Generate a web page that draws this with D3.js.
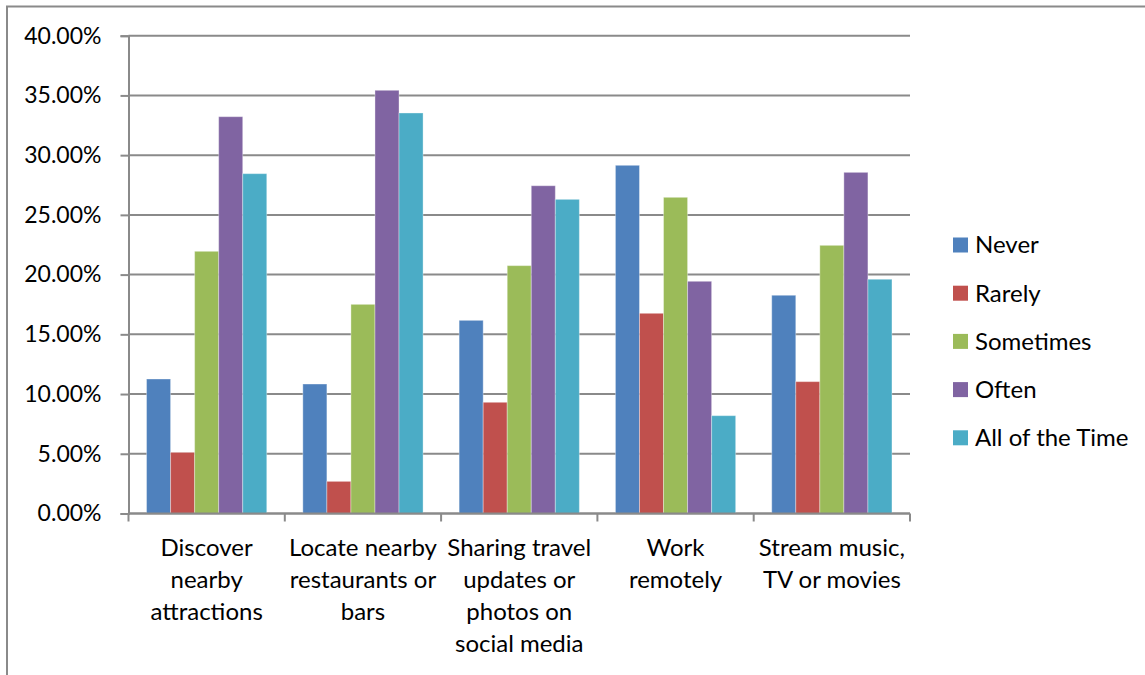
<!DOCTYPE html>
<html>
<head>
<meta charset="utf-8">
<script src="https://cdn.jsdelivr.net/npm/d3@7"></script>
<style>
  html, body { margin: 0; padding: 0; background: #fff; }
  svg { display: block; }
  text { font-family: Lato, "Open Sans", sans-serif; fill: #000; }
</style>
</head>
<body>
<svg id="chart" width="1145" height="675"></svg>
<script>
// Survey: how often travellers use their device for each activity
const categories = [
  ["Discover", "nearby", "attractions"],
  ["Locate nearby", "restaurants or", "bars"],
  ["Sharing travel", "updates or", "photos on", "social media"],
  ["Work", "remotely"],
  ["Stream music,", "TV or movies"]
];
const seriesNames = ["Never", "Rarely", "Sometimes", "Often", "All of the Time"];
const never       = [11.26, 10.84, 16.17, 29.15, 18.27];
const rarely      = [5.12, 2.69, 9.31, 16.76, 11.04];
const sometimes   = [21.95, 17.51, 20.75, 26.47, 22.45];
const often       = [33.22, 35.43, 27.44, 19.44, 28.56];
const allTheTime  = [28.45, 33.53, 26.30, 8.19, 19.61];
const yTicks = [0, 5, 10, 15, 20, 25, 30, 35, 40];
const colors = ["#4F81BD", "#C0504D", "#9BBB59", "#8064A2", "#4BACC6"];

const seriesValues = [never, rarely, sometimes, often, allTheTime];
const catKeys = categories.map((c, i) => i);

const svg = d3.select("#chart");
const grey = "#8a8a8a";

// outer chart frame
svg.append("rect")
  .attr("x", 7).attr("y", 6.5)
  .attr("width", 1160).attr("height", 690)
  .attr("fill", "none").attr("stroke", grey).attr("stroke-width", 2);

const plot = { left: 128.5, right: 910, top: 35.7, bottom: 513.5 };

const x0 = d3.scaleBand().domain(catKeys).range([plot.left, plot.right]);
// five bars per group with a 150% gap (0.75 bar width on each side)
const barW = x0.bandwidth() / 6.5;
const x1 = d3.scaleBand().domain(seriesNames).range([0.75 * barW, 5.75 * barW]);

const y = d3.scaleLinear().domain([0, 40]).range([plot.bottom, plot.top]);

// horizontal gridlines
svg.append("g")
  .selectAll("line").data(yTicks).join("line")
  .attr("x1", plot.left).attr("x2", plot.right)
  .attr("y1", d => y(d)).attr("y2", d => y(d))
  .attr("stroke", grey).attr("stroke-width", 2);

// y axis
const yAxis = d3.axisLeft(y).tickValues(yTicks)
  .tickFormat(d => d.toFixed(2) + "%").tickSize(8).tickPadding(19);
const gy = svg.append("g").attr("transform", `translate(${plot.left},0)`).call(yAxis);
gy.select(".domain").attr("stroke", grey).attr("stroke-width", 2);
gy.selectAll(".tick line").attr("stroke", grey).attr("stroke-width", 2);
gy.selectAll(".tick text")
  .style("font-family", "Lato, 'Open Sans', sans-serif")
  .style("font-size", "23px").attr("fill", "#000");

// bars
const groups = svg.append("g").selectAll("g").data(catKeys).join("g")
  .attr("transform", d => `translate(${x0(d)},0)`);
groups.selectAll("rect")
  .data(ci => seriesNames.map((s, si) => ({ s, si, v: seriesValues[si][ci] })))
  .join("rect")
  .attr("x", d => x1(d.s))
  .attr("width", x1.bandwidth())
  .attr("y", d => y(d.v))
  .attr("height", d => y(0) - y(d.v))
  .attr("fill", d => colors[d.si])
  .attr("stroke", "#ffffff").attr("stroke-opacity", 0.35).attr("stroke-width", 1);

// x axis with ticks between categories
svg.append("line")
  .attr("x1", plot.left).attr("x2", plot.right)
  .attr("y1", plot.bottom).attr("y2", plot.bottom)
  .attr("stroke", grey).attr("stroke-width", 2);
const tickXs = catKeys.map(k => x0(k)).concat([plot.right]);
svg.append("g").selectAll("line").data(tickXs).join("line")
  .attr("x1", d => d).attr("x2", d => d)
  .attr("y1", plot.bottom).attr("y2", plot.bottom + 8)
  .attr("stroke", grey).attr("stroke-width", 2);

// category labels (multi-line)
const catLabels = svg.append("g").selectAll("text").data(catKeys).join("text")
  .attr("text-anchor", "middle")
  .style("font-size", "24px")
  .attr("x", d => x0(d) + x0.bandwidth() / 2)
  .attr("y", 556);
catLabels.selectAll("tspan").data(d => categories[d]).join("tspan")
  .attr("x", function () { return d3.select(this.parentNode).attr("x"); })
  .attr("dy", (d, i) => i === 0 ? 0 : 32)
  .text(d => d);

// legend
const legend = svg.append("g").selectAll("g").data(seriesNames).join("g")
  .attr("transform", (d, i) => `translate(953, ${245 + i * 48.2})`);
legend.append("rect")
  .attr("x", 0).attr("y", -7.5).attr("width", 15).attr("height", 15)
  .attr("fill", (d, i) => colors[i]);
legend.append("text")
  .attr("x", 22).attr("y", 0).attr("dy", "0.35em")
  .style("font-size", "24px")
  .text(d => d);
</script>
</body>
</html>
